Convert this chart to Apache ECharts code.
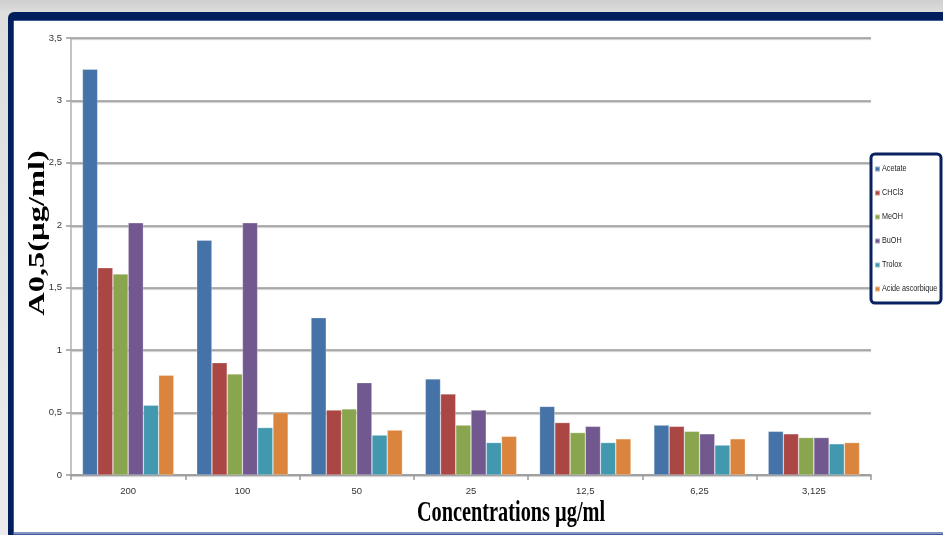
<!DOCTYPE html>
<html>
<head>
<meta charset="utf-8">
<script src="https://cdn.jsdelivr.net/npm/echarts@6/dist/echarts.min.js"></script>
<style>
  html, body { margin: 0; padding: 0; background: #ffffff; }
  #chart { width: 943px; height: 535px; }
</style>
</head>
<body>
<div id="chart"></div>
<script>
// Concentrations tested (category axis)
const categories = ['200', '100', '50', '25', '12,5', '6,25', '3,125'];

// A0,5 values per extract / reference compound
const acetate   = [3.25, 1.88, 1.26, 0.77, 0.55, 0.40, 0.35];
const chcl3     = [1.66, 0.90, 0.52, 0.65, 0.42, 0.39, 0.33];
const meoh      = [1.61, 0.81, 0.53, 0.40, 0.34, 0.35, 0.30];
const buoh      = [2.02, 2.02, 0.74, 0.52, 0.39, 0.33, 0.30];
const trolox    = [0.56, 0.38, 0.32, 0.26, 0.26, 0.24, 0.25];
const ascorbic  = [0.80, 0.50, 0.36, 0.31, 0.29, 0.29, 0.26];

const seriesNames = ['Acetate', 'CHCl3', 'MeOH', 'BuOH', 'Trolox', 'Acide ascorbique'];
const seriesData = [acetate, chcl3, meoh, buoh, trolox, ascorbic];
const palette = ['#4572A7', '#AA4643', '#89A54E', '#71588F', '#4198AF', '#DB843D'];

const sans = '"Liberation Sans", Arial, sans-serif';
const navy = '#0a2160';

// legend key layout (box on the right edge)
const keyTop = 168;
const keyStep = 24;

const chart = echarts.init(document.getElementById('chart'), null, { renderer: 'canvas' });

// condensed legend captions, drawn beside the legend swatches
const legendCaptions = seriesNames.map((name, i) => ({
  type: 'text', z: 7, silent: true,
  x: 882, y: keyTop + keyStep * i,
  scaleX: 0.76,
  style: {
    text: name,
    font: '9.5px ' + sans,
    fill: '#222', align: 'left', verticalAlign: 'middle'
  }
}));

chart.setOption({
  animation: false,
  color: palette,
  grid: { left: 71, right: 72, top: 38, bottom: 60, containLabel: false },
  legend: {
    orient: 'vertical',
    left: 874,
    top: keyTop - 2.5,
    padding: 0,
    itemWidth: 5,
    itemHeight: 5,
    itemGap: keyStep - 7,
    icon: 'rect',
    z: 6,
    formatter: () => '',
    textStyle: { fontSize: 1, lineHeight: 1, padding: 0 },
    data: seriesNames
  },
  xAxis: {
    type: 'category',
    data: categories,
    axisLine: { show: true, lineStyle: { color: '#9a9a9a', width: 1.5 } },
    axisTick: { show: true, length: 5, alignWithLabel: false, lineStyle: { color: '#9a9a9a', width: 1.5 } },
    axisLabel: { fontFamily: sans, fontSize: 9.5, color: '#333', margin: 11 },
    splitLine: { show: false }
  },
  yAxis: {
    type: 'value',
    min: 0,
    max: 3.5,
    interval: 0.5,
    axisLine: { show: true, lineStyle: { color: '#b0b0b0', width: 1.5 } },
    axisTick: { show: true, length: 5, lineStyle: { color: '#9a9a9a', width: 1.5 } },
    axisLabel: {
      fontFamily: sans, fontSize: 9.5, color: '#333', margin: 9,
      formatter: v => String(v).replace('.', ',')
    },
    splitLine: {
      show: true,
      lineStyle: {
        color: '#9a9a9a', width: 1.5,
        shadowColor: 'rgba(0,0,0,0.25)', shadowBlur: 1, shadowOffsetY: 1
      }
    }
  },
  series: seriesNames.map((name, i) => ({
    name: name,
    type: 'bar',
    data: seriesData[i],
    barGap: '0%',
    barCategoryGap: '20%',
    itemStyle: { borderColor: 'rgba(255,255,255,0.45)', borderWidth: 0.6 }
  })),
  graphic: [
    // page backdrop
    {
      type: 'rect', z: -30, silent: true,
      shape: { x: 0, y: 0, width: 943, height: 535 },
      style: {
        fill: new echarts.graphic.LinearGradient(0, 0, 0, 1, [
          { offset: 0, color: '#cfcfcf' },
          { offset: 0.025, color: '#dedede' },
          { offset: 1, color: '#ececec' }
        ])
      }
    },
    // navy frame
    {
      type: 'rect', z: -29, silent: true,
      shape: { x: 8, y: 12, width: 980, height: 600, r: 6 },
      style: { fill: '#001f5c' }
    },
    {
      type: 'rect', z: -28, silent: true,
      shape: { x: 13, y: 20, width: 980, height: 600, r: 2 },
      style: { fill: '#3d5b98' }
    },
    {
      type: 'rect', z: -27, silent: true,
      shape: { x: 14, y: 21, width: 980, height: 511 },
      style: { fill: '#ffffff' }
    },
    {
      type: 'rect', z: -26, silent: true,
      shape: { x: 14, y: 532, width: 980, height: 2 },
      style: { fill: '#8494bf' }
    },
    // legend box
    {
      type: 'rect', z: 5, silent: true,
      shape: { x: 871, y: 154, width: 70, height: 149, r: 4 },
      style: { fill: '#ffffff', stroke: navy, lineWidth: 3 }
    },
    ...legendCaptions,
    // axis titles
    {
      type: 'text', z: 5, silent: true,
      x: 511, y: 514,
      scaleX: 0.7,
      style: {
        text: 'Concentrations µg/ml',
        font: 'bold 29px "Liberation Serif", "Times New Roman", serif',
        fill: '#000', align: 'center', verticalAlign: 'middle'
      }
    },
    {
      type: 'text', z: 5, silent: true,
      x: 38, y: 233,
      rotation: Math.PI / 2,
      scaleX: 1.35,
      style: {
        text: 'A0,5(µg/ml)',
        font: 'bold 24px "Liberation Serif", "Times New Roman", serif',
        fill: '#000', align: 'center', verticalAlign: 'middle'
      }
    }
  ]
});
</script>
</body>
</html>
